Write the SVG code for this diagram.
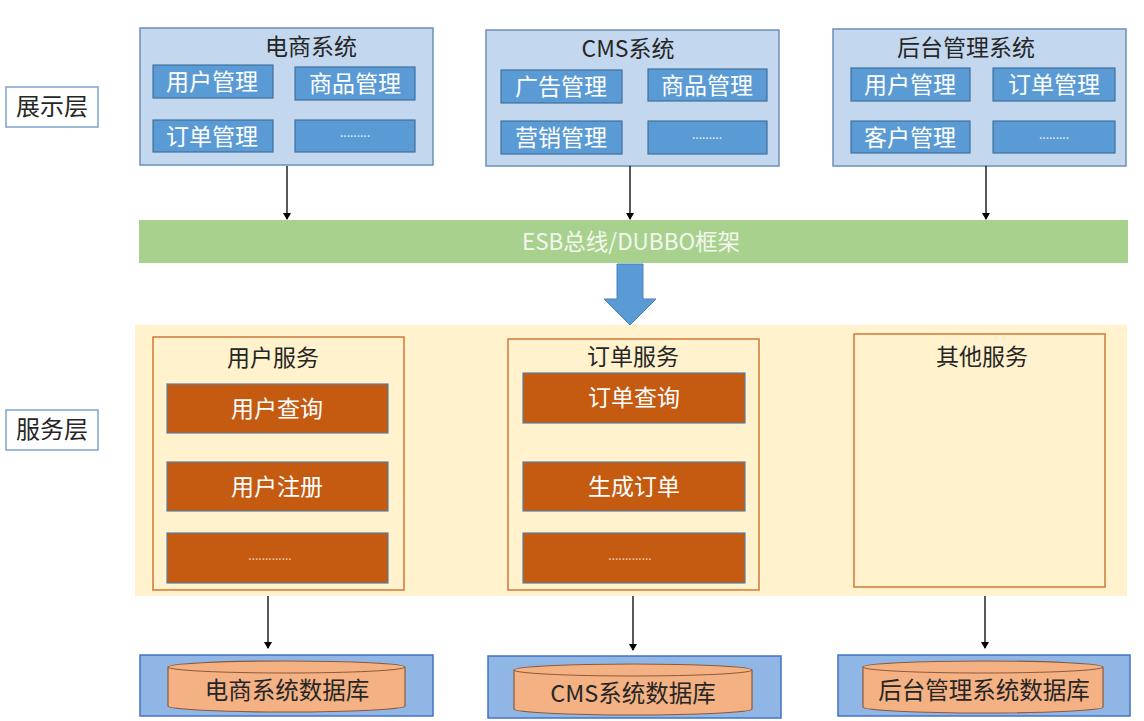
<svg xmlns="http://www.w3.org/2000/svg" width="1144" height="721" viewBox="0 0 1144 721">
<defs>
<style>
text{font-family:"Noto Sans CJK SC","Microsoft YaHei",sans-serif;text-anchor:middle}
.sys{fill:#c3d8ee;stroke:#6d8fb5;stroke-width:1.5}
.mod{fill:#5b9bd5;stroke:#41719c;stroke-width:1.2}
.modt{fill:#ffffff;font-size:23px}
.dots{fill:#e8f0fa;font-size:12px}
.title{fill:#262626;font-size:23px}
.svc{fill:#fff2cc;stroke:#d0783a;stroke-width:1.5}
.op{fill:#c55a11;stroke:#5a7ea6;stroke-width:1.2}
.opt{fill:#ffffff;font-size:23px}
.opdots{fill:#f8d5b8;font-size:12px}
.layer{fill:#ffffff;stroke:#7da2cf;stroke-width:1.5}
.layert{fill:#262626;font-size:24px}
.dbbox{fill:#8fb6e4;stroke:#4472c4;stroke-width:1.5}
.cyl{fill:#f4b183;stroke:#8c5a3a;stroke-width:1.2}
.dbt{fill:#262626;font-size:23.5px}
.conn{stroke:#000;stroke-width:1.3;fill:none;marker-end:url(#ah)}
</style>
<marker id="ah" markerWidth="8" markerHeight="8" refX="6" refY="4" orient="auto" markerUnits="userSpaceOnUse">
<path d="M0,0 L7,4 L0,8 Z" fill="#000"/>
</marker>
</defs>
<rect width="1144" height="721" fill="#ffffff"/>

<!-- layer labels -->
<g id="layer-display"><rect class="layer" x="6" y="87" width="92" height="40"/><text class="layert" x="52" y="115">展示层</text></g>
<g id="layer-service"><rect class="layer" x="6" y="410" width="92" height="40"/><text class="layert" x="52" y="438">服务层</text></g>

<!-- top systems -->
<g id="sys-ecommerce">
<rect class="sys" x="140" y="28" width="293" height="137"/>
<text class="title" x="311" y="55">电商系统</text>
<rect class="mod" x="153" y="65" width="120" height="33"/><text class="modt" x="212" y="90">用户管理</text>
<rect class="mod" x="295" y="67" width="120" height="33"/><text class="modt" x="355" y="92">商品管理</text>
<rect class="mod" x="153" y="120" width="120" height="32"/><text class="modt" x="212" y="145">订单管理</text>
<rect class="mod" x="295" y="120" width="120" height="32"/><text class="dots" x="355" y="137">.........</text>
</g>
<g id="sys-cms">
<rect class="sys" x="486" y="30" width="293" height="136"/>
<text class="title" x="628" y="57">CMS系统</text>
<rect class="mod" x="501" y="70" width="121" height="33"/><text class="modt" x="561" y="95">广告管理</text>
<rect class="mod" x="648" y="69" width="119" height="32"/><text class="modt" x="707" y="94">商品管理</text>
<rect class="mod" x="501" y="121" width="121" height="33"/><text class="modt" x="561" y="146">营销管理</text>
<rect class="mod" x="648" y="121" width="119" height="33"/><text class="dots" x="707" y="139">.........</text>
</g>
<g id="sys-admin">
<rect class="sys" x="833" y="29" width="293" height="137"/>
<text class="title" x="966" y="56">后台管理系统</text>
<rect class="mod" x="851" y="68" width="119" height="33"/><text class="modt" x="910" y="93">用户管理</text>
<rect class="mod" x="993" y="68" width="122" height="33"/><text class="modt" x="1054" y="93">订单管理</text>
<rect class="mod" x="851" y="121" width="119" height="32"/><text class="modt" x="910" y="146">客户管理</text>
<rect class="mod" x="993" y="121" width="122" height="32"/><text class="dots" x="1054" y="139">.........</text>
</g>

<!-- bus -->
<g id="bus">
<rect x="139" y="220" width="989" height="43" fill="#a9d18e"/>
<text x="631" y="250" fill="#f2f8ee" font-size="22.5">ESB总线/DUBBO框架</text>
</g>
<g id="big-arrow">
<path d="M617,264 L643,264 L643,299 L656,299 L630,325 L604,299 L617,299 Z" fill="#5b9bd5" stroke="#4a82bd" stroke-width="1"/>
</g>

<!-- service layer -->
<rect x="135" y="325" width="992" height="271" fill="#fff2cc"/>
<g id="svc-user">
<rect class="svc" x="153" y="337" width="251" height="253"/>
<text class="title" x="273" y="366">用户服务</text>
<rect class="op" x="167" y="384" width="221" height="49"/><text class="opt" x="277" y="417">用户查询</text>
<rect class="op" x="167" y="462" width="221" height="49"/><text class="opt" x="277" y="495">用户注册</text>
<rect class="op" x="167" y="533" width="221" height="50"/><text class="opdots" x="270" y="560">.............</text>
</g>
<g id="svc-order">
<rect class="svc" x="508" y="339" width="251" height="251"/>
<text class="title" x="633" y="365">订单服务</text>
<rect class="op" x="523" y="373" width="222" height="50"/><text class="opt" x="634" y="406">订单查询</text>
<rect class="op" x="523" y="462" width="222" height="49"/><text class="opt" x="634" y="495">生成订单</text>
<rect class="op" x="523" y="533" width="222" height="50"/><text class="opdots" x="630" y="560">.............</text>
</g>
<g id="svc-other">
<rect class="svc" x="854" y="334" width="251" height="253"/>
<text class="title" x="982" y="365">其他服务</text>
</g>

<!-- databases -->
<g id="db-ecommerce">
<rect class="dbbox" x="140" y="655" width="293" height="61"/>
<path class="cyl" d="M168,667 A118.5,6 0 0 1 405,667 L405,706 A118.5,6 0 0 1 168,706 Z"/>
<path d="M168,667 A118.5,6 0 0 0 405,667" fill="none" stroke="#8c5a3a" stroke-width="1"/>
<text class="dbt" x="287" y="699">电商系统数据库</text>
</g>
<g id="db-cms">
<rect class="dbbox" x="488" y="656" width="293" height="62"/>
<path class="cyl" d="M514,670 A119,6 0 0 1 752,670 L752,709 A119,6 0 0 1 514,709 Z"/>
<path d="M514,670 A119,6 0 0 0 752,670" fill="none" stroke="#8c5a3a" stroke-width="1"/>
<text class="dbt" x="633" y="702">CMS系统数据库</text>
</g>
<g id="db-admin">
<rect class="dbbox" x="838" y="655" width="292" height="61"/>
<path class="cyl" d="M863,667 A120,6 0 0 1 1103,667 L1103,707 A120,6 0 0 1 863,707 Z"/>
<path d="M863,667 A120,6 0 0 0 1103,667" fill="none" stroke="#8c5a3a" stroke-width="1"/>
<text class="dbt" x="984" y="699">后台管理系统数据库</text>
</g>

<!-- connectors -->
<g id="connectors">
<line class="conn" x1="287" y1="166" x2="287" y2="219"/>
<line class="conn" x1="630" y1="166" x2="630" y2="219"/>
<line class="conn" x1="986" y1="166" x2="986" y2="219"/>
<line class="conn" x1="268" y1="596" x2="268" y2="648"/>
<line class="conn" x1="633" y1="596" x2="633" y2="650"/>
<line class="conn" x1="985" y1="596" x2="985" y2="648"/>
</g>
</svg>
